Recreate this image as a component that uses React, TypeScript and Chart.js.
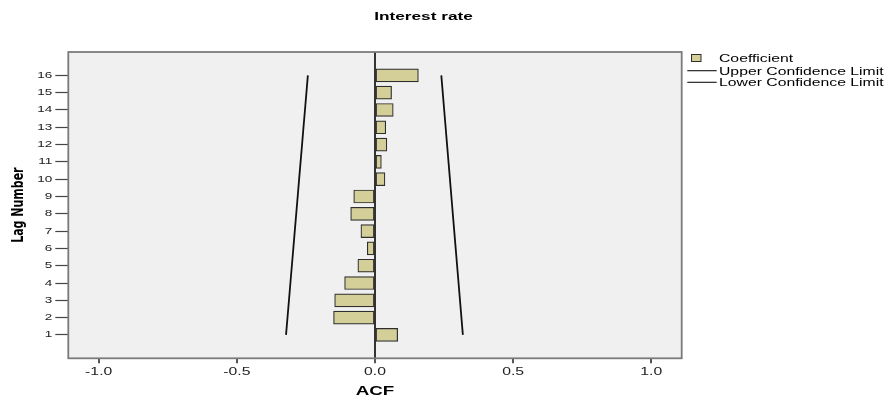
import React, { useEffect, useRef } from "react";
import { Chart, registerables } from "chart.js";

Chart.register(...registerables);

// ---- data ----
const lags = [1, 2, 3, 4, 5, 6, 7, 8, 9, 10, 11, 12, 13, 14, 15, 16];
const coefficients = [0.082, -0.15, -0.146, -0.11, -0.062, -0.028, -0.051, -0.088, -0.077, 0.036, 0.023, 0.043, 0.039, 0.066, 0.06, 0.157];
const upperLimit = [0.318, 0.3128, 0.3076, 0.3024, 0.2972, 0.292, 0.2868, 0.2816, 0.2764, 0.2712, 0.266, 0.2608, 0.2556, 0.2504, 0.2452, 0.24];
const lowerLimit = [-0.322, -0.3167, -0.3114, -0.3062, -0.3009, -0.2956, -0.2904, -0.2851, -0.2798, -0.2746, -0.2693, -0.264, -0.2588, -0.2535, -0.2482, -0.243];
const xTickValues = [-1, -0.5, 0, 0.5, 1];
const chartTitle = "Interest rate";
const xAxisTitle = "ACF";
const yAxisTitle = "Lag Number";
const seriesLabels = ["Coefficient", "Upper Confidence Limit", "Lower Confidence Limit"];

// ---- layout / style ----
const W = 896;
const H = 405;
const TEXT_STRETCH = 1.5; // the reference text is drawn wide
const PLOT_LEFT = 68.3;
const PLOT_RIGHT = 681.7;
const PLOT_TOP = 52;
const PLOT_BOTTOM = 358.3;
const BAR_FILL = "#d4cf98";
const BAR_EDGE = "#2e2e2e";
const PLOT_BG = "#f0f0f0";
const SANS = "'Liberation Sans', Arial, sans-serif";

function widenText(ctx: any) {
  if (ctx.__widened) return;
  ctx.__widened = true;
  const orig = ctx.fillText;
  ctx.fillText = function (text: string, x: number, y: number) {
    const t = this.getTransform();
    const rotated = Math.abs(t.b) > Math.abs(t.a);
    this.save();
    this.translate(x, y);
    if (rotated) this.scale(1, TEXT_STRETCH);
    else this.scale(TEXT_STRETCH, 1);
    orig.call(this, text, 0, 0);
    this.restore();
  };
}

const framePlugin = {
  id: "frame",
  beforeInit(chart: any) {
    widenText(chart.ctx);
  },
  beforeDraw(chart: any) {
    const { ctx, chartArea: a } = chart;
    ctx.save();
    ctx.fillStyle = PLOT_BG;
    ctx.fillRect(a.left, a.top, a.right - a.left, a.bottom - a.top);
    ctx.restore();
  },
  afterDraw(chart: any) {
    const { ctx, chartArea: a } = chart;
    ctx.save();
    ctx.strokeStyle = "#7a7a7a";
    ctx.lineWidth = 1.8;
    ctx.strokeRect(a.left, a.top, a.right - a.left, a.bottom - a.top);

    // title
    ctx.fillStyle = "#000";
    ctx.font = `bold 11.5px ${SANS}`;
    ctx.textAlign = "center";
    ctx.textBaseline = "alphabetic";
    ctx.fillText(chartTitle, 423.5, 19.5);

    // legend
    const ds = chart.data.datasets;
    const textX = 719;
    ctx.font = `10.5px ${SANS}`;
    ctx.textAlign = "left";
    ctx.fillStyle = ds[0].backgroundColor;
    ctx.strokeStyle = ds[0].borderColor;
    ctx.lineWidth = 1;
    ctx.fillRect(691.5, 54.5, 9.5, 7);
    ctx.strokeRect(691.5, 54.5, 9.5, 7);
    ctx.fillStyle = "#000";
    ctx.fillText(ds[0].label, textX, 61.5);
    const rows = [
      { d: ds[1], y: 70.7 },
      { d: ds[2], y: 82.3 },
    ];
    rows.forEach((r) => {
      ctx.strokeStyle = r.d.borderColor;
      ctx.lineWidth = 1.1;
      ctx.beginPath();
      ctx.moveTo(687.3, r.y);
      ctx.lineTo(716.7, r.y);
      ctx.stroke();
      ctx.fillStyle = "#000";
      ctx.fillText(r.d.label, textX, r.y + 3.8);
    });
    ctx.restore();
  },
};

export default function App() {
  const ref = useRef<HTMLCanvasElement | null>(null);

  useEffect(() => {
    document.body.style.margin = "0";
    const canvas = ref.current;
    if (!canvas) return;
    const chart = new Chart(canvas, {
      type: "bar",
      data: {
        datasets: [
          {
            type: "bar",
            label: seriesLabels[0],
            data: lags.map((l, i) => ({ x: coefficients[i], y: l })),
            backgroundColor: BAR_FILL,
            borderColor: BAR_EDGE,
            borderWidth: 1.2,
            borderSkipped: false,
            barThickness: 13,
            order: 2,
          } as any,
          {
            type: "line",
            label: seriesLabels[1],
            data: lags.map((l, i) => ({ x: upperLimit[i], y: l })),
            borderColor: "#111",
            borderWidth: 1.8,
            pointRadius: 0,
            fill: false,
            tension: 0,
            order: 1,
          } as any,
          {
            type: "line",
            label: seriesLabels[2],
            data: lags.map((l, i) => ({ x: lowerLimit[i], y: l })),
            borderColor: "#111",
            borderWidth: 1.8,
            pointRadius: 0,
            fill: false,
            tension: 0,
            order: 1,
          } as any,
        ],
      },
      options: {
        indexAxis: "y",
        responsive: false,
        devicePixelRatio: 1,
        animation: false,
        events: [],
        layout: {
          padding: { left: 0, top: PLOT_TOP, right: W - PLOT_RIGHT, bottom: 0 },
        },
        plugins: {
          legend: { display: false },
          title: { display: false },
          tooltip: { enabled: false },
        },
        scales: {
          x: {
            type: "linear",
            position: "bottom",
            min: -1.11,
            max: 1.11,
            offset: false,
            afterBuildTicks: (s: any) => {
              s.ticks = xTickValues.map((v) => ({ value: v }));
            },
            afterFit: (s: any) => {
              s.height = H - PLOT_BOTTOM;
            },
            border: { display: false },
            grid: {
              offset: false,
              drawOnChartArea: true,
              drawTicks: true,
              tickLength: 5,
              color: (c: any) => (c.tick && c.tick.value === 0 ? "#333" : "rgba(0,0,0,0)"),
              lineWidth: 2,
              tickColor: "#444",
              tickWidth: 1.8,
            },
            ticks: {
              padding: 3,
              color: "#222",
              font: { family: SANS, size: 10.5 },
              maxRotation: 0,
              autoSkip: false,
              callback: (v: any) => Number(v).toFixed(1),
            },
            title: {
              display: true,
              text: xAxisTitle,
              color: "#000",
              font: { family: SANS, size: 12.5, weight: "bold" },
              padding: { top: 4, bottom: 6 },
            },
          },
          y: {
            type: "linear",
            position: "left",
            min: -0.35,
            max: 17.35,
            offset: false,
            afterBuildTicks: (s: any) => {
              s.ticks = lags.map((v) => ({ value: v }));
            },
            afterFit: (s: any) => {
              s.width = PLOT_LEFT;
            },
            border: { display: false },
            grid: {
              offset: false,
              drawOnChartArea: false,
              drawTicks: true,
              tickLength: 13,
              tickColor: "#444",
              tickWidth: 1.2,
            },
            ticks: {
              padding: 3,
              color: "#222",
              font: { family: SANS, size: 9 },
              autoSkip: false,
              callback: (v: any) => String(v),
            },
            title: {
              display: true,
              text: yAxisTitle,
              color: "#000",
              font: { family: "'DejaVu Sans', sans-serif", size: 11, weight: "bold" },
              padding: { top: 12, bottom: 0 },
            },
          },
        },
      } as any,
      plugins: [framePlugin],
    });
    return () => chart.destroy();
  }, []);

  return (
    <div style={{ position: "absolute", left: 0, top: 0, width: W, height: H, background: "#fff" }}>
      <canvas ref={ref} width={W} height={H} style={{ display: "block", width: W, height: H }} />
    </div>
  );
}
